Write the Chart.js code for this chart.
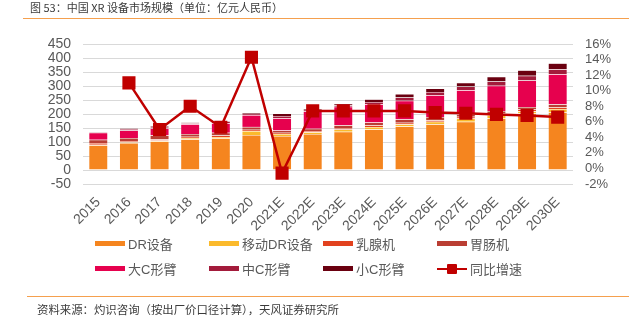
<!DOCTYPE html>
<html>
<head>
<meta charset="utf-8">
<script src="https://cdn.jsdelivr.net/npm/chart.js@4"></script>
<style>
	body { margin: 0; background: #fff; }
	#wrap { position: relative; width: 629px; height: 322px; overflow: hidden; font-family: "Liberation Sans", Arial, "Noto Sans CJK SC", sans-serif; }
	#chart { position: absolute; left: 0; top: 0; }
	#title { position: absolute; left: 30px; top: -1px; font-size: 11px; color: #3a3a3a; font-family: "Noto Sans CJK SC", sans-serif; }
	#topline { position: absolute; left: 23px; right: 0; top: 18px; height: 1px; background: #F5A04E; }
	#botline { position: absolute; left: 27px; right: 0; top: 296px; height: 1px; background: #F5A04E; }
	#source { position: absolute; left: 37px; top: 301px; font-size: 11.4px; color: #3a3a3a; font-family: "Noto Sans CJK SC", sans-serif; }
	.lg { position: absolute; font-size: 13px; color: #595959; display: flex; align-items: center; font-family: "Liberation Sans", Arial, "Noto Sans CJK SC", sans-serif; }
	.sw { width: 30px; height: 5px; margin-right: 3px; position: relative; }
	.mk { position: absolute; left: 10px; top: -4px; width: 10px; height: 10px; background: #C00000; border-radius: 1px; }
</style>
</head>
<body>
<div id="wrap">
	<canvas id="chart" width="629" height="322"></canvas>
	<div id="title">图 53：中国 XR 设备市场规模（单位：亿元人民币）</div>
	<div id="topline"></div>
	<div id="legend"></div>
	<div id="botline"></div>
	<div id="source">资料来源：灼识咨询（按出厂价口径计算），天风证券研究所</div>
</div>
<script>
// --- DONNÉES --- //
const years = ['2015','2016','2017','2018','2019','2020','2021E','2022E','2023E','2024E','2025E','2026E','2027E','2028E','2029E','2030E'];
const drEquip    = [88, 96, 102, 110, 113, 125, 121, 129, 137, 145, 155, 163, 172, 185, 202, 206];
const mobileDr   = [2, 3, 3, 4, 5, 14, 8, 6, 8, 9, 8, 9, 12, 11, 8, 12];
const mammo      = [6, 5, 5, 5, 5, 5, 4, 4, 5, 6, 6, 6, 6, 6, 6, 6];
const gastro     = [12, 10, 14, 10, 10, 10, 8, 8, 10, 10, 12, 11, 8, 9, 9, 11];
const largeC     = [25, 27, 25, 34, 34, 42, 44, 62, 66, 65, 66, 78, 87, 90, 95, 107];
const midC       = [2, 5, 5, 4, 6, 5, 8, 6, 5, 8, 12, 12, 13, 15, 17, 18];
const smallC     = [1, 3, 3, 3, 4, 4, 9, 5, 6, 10, 12, 12, 14, 17, 19, 21];
const growth     = [null, 11.0, 5.0, 8.0, 5.3, 14.3, -0.6, 7.4, 7.4, 7.4, 7.4, 7.2, 7.1, 6.95, 6.8, 6.6];
const leftTicks  = { min: -50, max: 450, step: 50 };
const rightTicks = { min: -2, max: 16, step: 2 };

const barSeries = [
	{ label: 'DR设备', data: drEquip, color: '#F5851F' },
	{ label: '移动DR设备', data: mobileDr, color: '#FBBA2C' },
	{ label: '乳腺机', data: mammo, color: '#E2421F' },
	{ label: '胃肠机', data: gastro, color: '#BA3E33' },
	{ label: '大C形臂', data: largeC, color: '#E6014E' },
	{ label: '中C形臂', data: midC, color: '#A31B3B' },
	{ label: '小C形臂', data: smallC, color: '#6A0010' }
];
const lineColor = '#C00000';

// --- LÉGENDE --- //
const legendPos = [[95, 243], [209, 243], [323, 243], [437, 243], [95, 268], [209, 268], [323, 268]];
const legendEl = document.getElementById('legend');
legendEl.innerHTML = barSeries.map((s, i) => `
	<div class="lg" style="left:${legendPos[i][0]}px;top:${legendPos[i][1] - 9}px">
		<div class="sw" style="background:${s.color}"></div>${s.label}
	</div>`).join('') + `
	<div class="lg" style="left:437px;top:${268 - 9}px">
		<div class="sw" style="height:2px;background:${lineColor}"><div class="mk"></div></div>同比增速
	</div>`;

// --- GRAPHIQUE --- //
const tickFont = { family: '"Liberation Sans", Arial, sans-serif', size: 14 };
new Chart(document.getElementById('chart'), {
	type: 'bar',
	data: {
		labels: years,
		datasets: [
			...barSeries.map(s => ({
				label: s.label, data: s.data, backgroundColor: s.color,
				borderColor: 'rgba(255,255,255,0.35)', borderWidth: 0.5,
				stack: 'xr', yAxisID: 'y', order: 1,
				categoryPercentage: 1, barPercentage: 0.62
			})),
			{
				type: 'line', label: '同比增速', data: growth, yAxisID: 'y1', order: 0,
				borderColor: lineColor, backgroundColor: lineColor, borderWidth: 2.5,
				pointStyle: 'rect', pointRadius: 7.5, tension: 0
			}
		]
	},
	options: {
		responsive: false,
		animation: false,
		layout: { padding: { top: 44, bottom: 88, left: 0, right: 0 } },
		plugins: { legend: { display: false }, tooltip: { enabled: false } },
		scales: {
			x: {
				stacked: true,
				grid: { display: false },
				border: { display: false },
				ticks: { color: '#595959', font: tickFont, maxRotation: 45, minRotation: 45, padding: 2, autoSkip: false },
				afterFit: s => { s.height = 50; }
			},
			y: {
				position: 'left', stacked: true,
				min: leftTicks.min, max: leftTicks.max,
				ticks: { stepSize: leftTicks.step, color: '#595959', font: tickFont, padding: 12, autoSkip: false },
				grid: { color: '#D9D9D9', drawTicks: false },
				border: { display: false },
				afterFit: s => { s.width = 83; }
			},
			y1: {
				position: 'right',
				min: rightTicks.min, max: rightTicks.max,
				ticks: { stepSize: rightTicks.step, color: '#595959', font: { family: tickFont.family, size: 13 }, padding: 12, autoSkip: false, callback: v => v + '%' },
				grid: { display: false, drawTicks: false },
				border: { display: false },
				afterFit: s => { s.width = 56; }
			}
		}
	}
});
</script>
</body>
</html>
